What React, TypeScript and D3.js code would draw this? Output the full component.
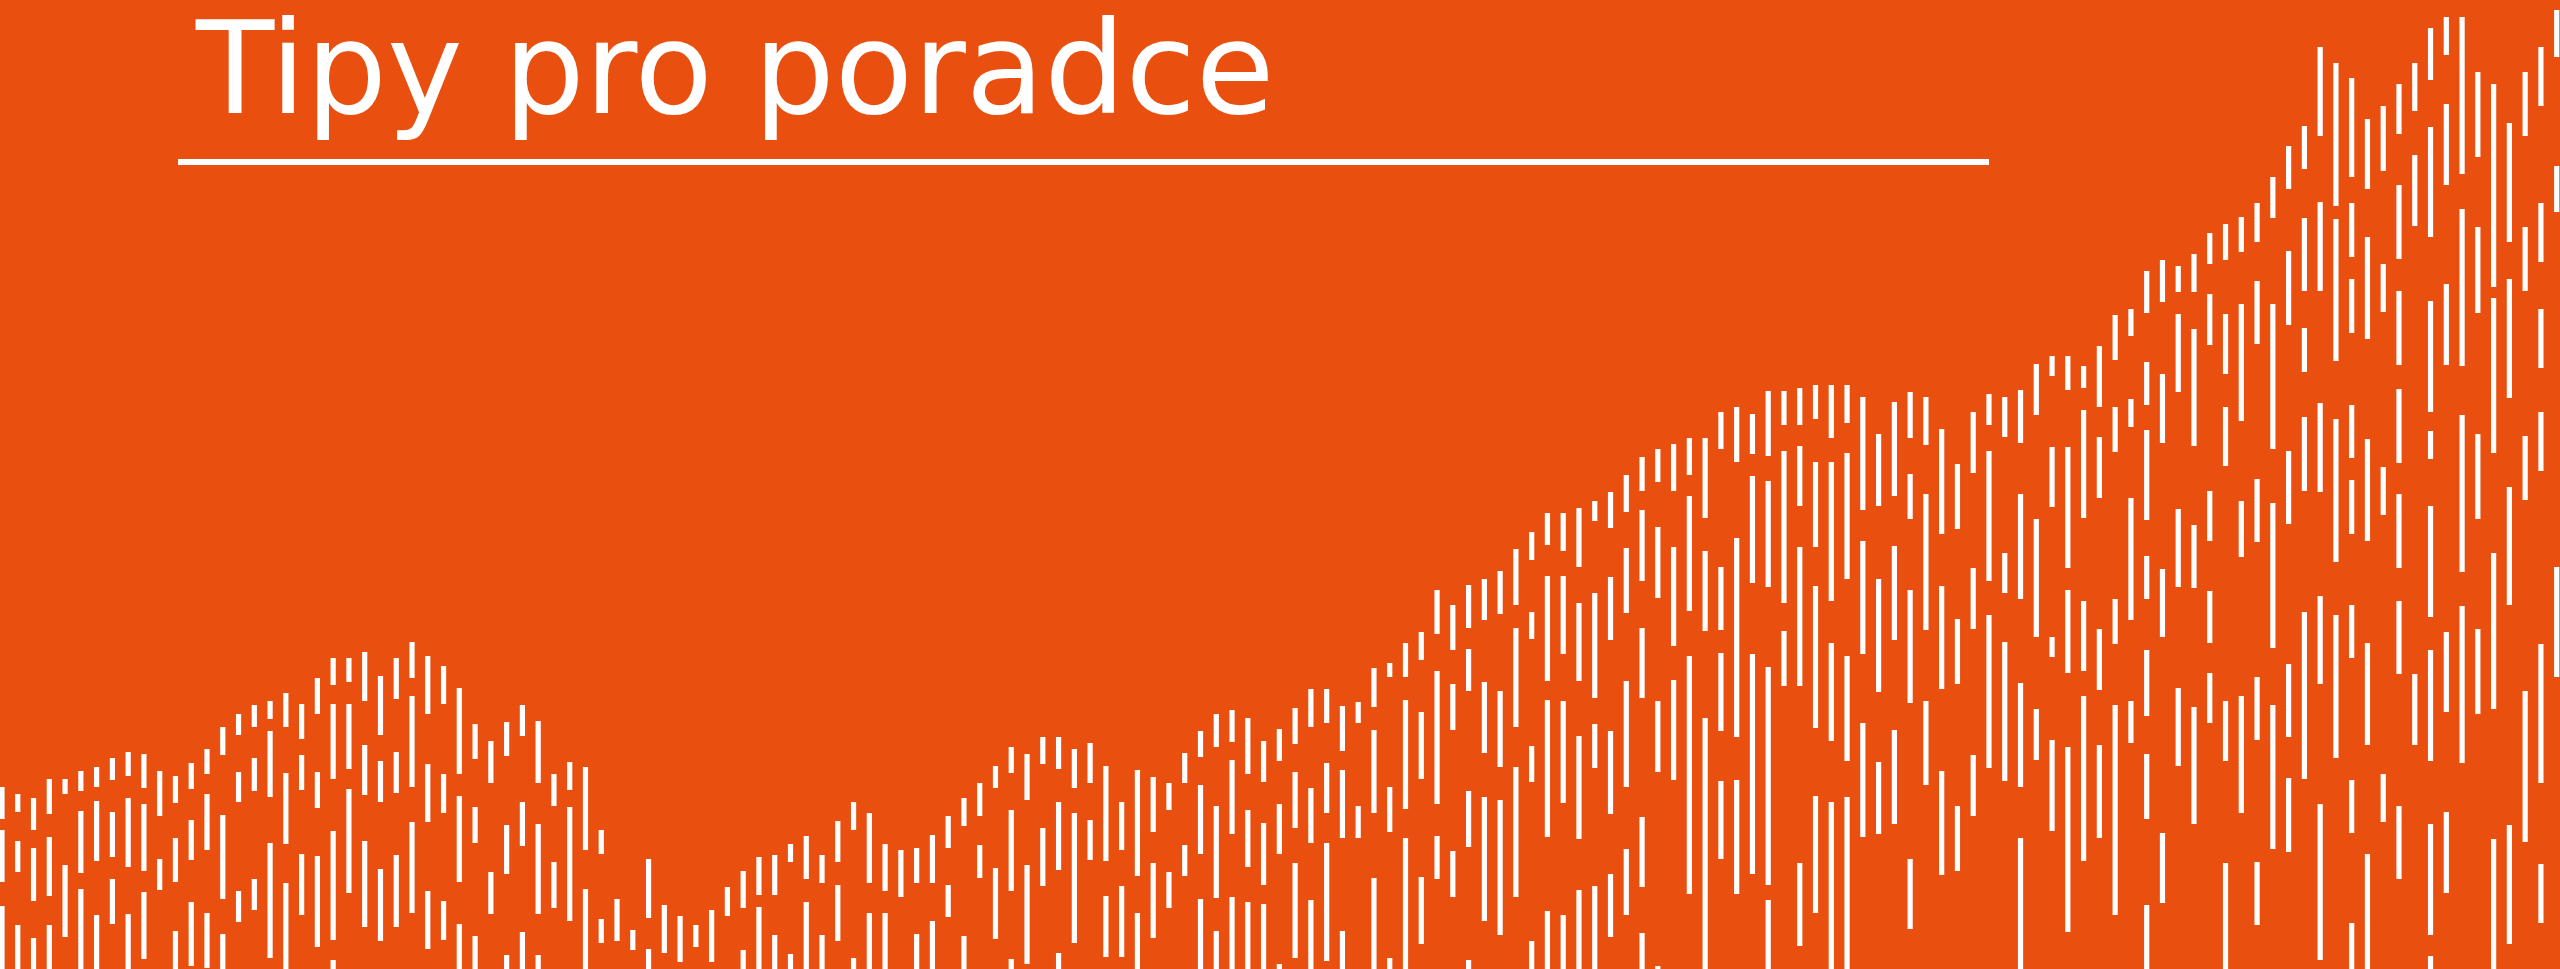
import * as d3 from 'd3'

// Column segments: [top, bottom] rows, per column (left to right)
const ridgeLeft: [number, number][][] = [
  [[787, 819], [830, 882], [906, 969]],
  [[794, 812], [841, 872], [925, 969]],
  [[798, 830], [848, 901], [938, 969]],
  [[779, 814], [837, 896], [925, 969]],
  [[779, 794], [865, 937]],
  [[771, 791], [811, 873], [889, 969]],
  [[767, 787], [801, 861], [915, 969]],
  [[758, 780], [812, 857], [879, 924]],
  [[752, 776], [798, 867], [914, 969]],
  [[754, 788], [804, 871], [892, 959]],
  [[771, 816], [859, 890]],
  [[776, 803], [838, 882], [931, 969]],
  [[763, 789], [820, 860], [902, 966]],
  [[749, 774], [794, 850], [913, 968]],
  [[727, 755], [815, 899], [934, 969]],
  [[714, 735], [772, 802], [891, 922]],
  [[705, 727], [758, 791], [879, 910]],
  [[701, 719], [731, 797], [843, 958]],
  [[693, 727], [773, 844], [883, 969]],
  [[704, 739], [755, 790], [854, 915]],
  [[678, 714], [772, 808], [856, 947]],
  [[658, 685], [704, 779], [831, 940], [960, 969]],
  [[658, 682], [704, 769], [789, 893]],
  [[652, 701], [745, 795], [841, 927]],
  [[676, 735], [761, 802], [869, 941]],
  [[658, 699], [752, 793], [855, 927]],
  [[642, 678], [696, 787], [822, 913]],
  [[656, 714], [764, 822], [891, 949]],
  [[666, 704], [774, 813], [901, 940]],
  [[688, 774], [796, 882], [924, 969]],
  [[724, 759], [807, 843], [936, 969]],
  [[741, 783], [872, 914]],
  [[722, 756], [825, 874], [955, 969]],
  [[705, 736], [802, 846], [932, 969]],
  [[721, 783], [824, 914], [955, 969]],
  [[774, 806], [862, 908]],
  [[762, 790], [807, 921]],
  [[767, 850], [889, 969]],
  [[830, 854], [919, 943]],
  [[899, 941]],
  [[930, 950]],
  [[859, 918], [949, 969]],
  [[905, 953]],
  [[916, 962]],
  [[925, 947]],
]

const riseMiddle: [number, number][][] = [
  [[910, 962]],
  [[887, 916]],
  [[871, 908], [950, 969]],
  [[857, 895], [907, 969]],
  [[855, 895], [935, 969]],
  [[844, 862], [954, 969]],
  [[836, 879], [902, 969]],
  [[855, 883], [935, 969]],
  [[821, 862], [885, 941]],
  [[802, 830], [958, 969]],
  [[813, 883], [913, 969]],
  [[844, 891], [913, 969]],
  [[850, 897]],
  [[848, 883], [934, 969]],
  [[835, 883], [921, 969]],
  [[816, 848], [885, 917]],
  [[798, 826], [936, 969]],
  [[783, 816], [845, 878]],
  [[766, 788], [868, 939]],
  [[747, 773], [810, 891], [959, 969]],
  [[754, 800], [865, 964]],
  [[737, 764], [828, 886]],
  [[737, 769], [802, 870], [953, 969]],
  [[749, 788], [813, 943]],
  [[743, 783], [820, 860]],
  [[766, 861], [896, 957]],
  [[802, 850], [886, 957]],
  [[770, 876], [913, 969]],
  [[777, 832], [863, 938]],
  [[783, 810], [872, 908]],
  [[753, 783], [845, 876]],
  [[731, 757], [785, 854], [899, 969]],
  [[714, 747], [806, 898], [931, 969]],
  [[710, 742], [760, 834], [897, 969]],
  [[718, 774], [810, 867], [902, 969]],
  [[741, 782], [823, 885], [904, 969]],
  [[729, 761], [804, 854], [964, 969]],
  [[708, 744], [772, 828], [863, 958]],
  [[689, 727], [788, 843], [900, 969]],
  [[689, 723], [763, 813], [843, 961]],
  [[706, 751], [770, 838], [931, 969]],
  [[702, 723], [806, 838]],
  [[668, 707], [730, 813], [878, 969]],
  [[663, 677], [787, 832], [958, 969]],
]

const plateau: [number, number][][] = [
  [[643, 677], [700, 809], [838, 969]],
  [[632, 660], [712, 779], [877, 944]],
  [[590, 634], [671, 804], [836, 879]],
  [[605, 650], [684, 730], [851, 897]],
  [[585, 628], [649, 691], [791, 847], [960, 969]],
  [[579, 620], [682, 753], [797, 921]],
  [[571, 614], [691, 767], [800, 935]],
  [[549, 605], [628, 727], [767, 897]],
  [[532, 560], [612, 639], [746, 782], [941, 969]],
  [[513, 545], [576, 681], [700, 837], [911, 969]],
  [[513, 551], [576, 654], [701, 803], [915, 969]],
  [[508, 567], [603, 681], [736, 839], [890, 969]],
  [[501, 521], [593, 698], [724, 768], [886, 969]],
  [[492, 528], [577, 640], [731, 814], [874, 937]],
  [[475, 512], [548, 613], [681, 787], [849, 915]],
  [[457, 491], [510, 581], [628, 698], [817, 887], [933, 969]],
  [[449, 482], [527, 598], [701, 772], [966, 969]],
  [[444, 491], [547, 646], [680, 780]],
  [[438, 475], [496, 611], [656, 894]],
  [[438, 518], [551, 631], [718, 969]],
  [[412, 449], [567, 630], [653, 731], [781, 859]],
  [[407, 462], [538, 737], [780, 894]],
  [[414, 454], [476, 583], [654, 874]],
  [[391, 456], [481, 587], [667, 885], [900, 969]],
  [[391, 425], [451, 603], [631, 686]],
  [[388, 425], [446, 506], [547, 686], [863, 946]],
  [[385, 419], [462, 547], [586, 728], [796, 913]],
  [[385, 438], [462, 601], [643, 741], [802, 969]],
  [[385, 423], [453, 579], [656, 761], [797, 969]],
  [[397, 510], [541, 654], [723, 837]],
  [[434, 506], [579, 692], [762, 834]],
  [[402, 496], [546, 640], [730, 824]],
  [[392, 438], [474, 519], [590, 703], [859, 929]],
  [[397, 445], [494, 630], [701, 785]],
  [[429, 534], [586, 689], [771, 875]],
  [[464, 529], [619, 684], [806, 871]],
  [[412, 473], [568, 629], [755, 816]],
  [[394, 425], [451, 581], [615, 768]],
]

const peaksRight: [number, number][][] = [
  [[397, 437], [553, 593], [642, 781]],
  [[390, 443], [494, 599], [683, 787], [838, 969]],
  [[364, 415], [519, 637], [709, 760]],
  [[356, 376], [447, 507], [637, 657], [740, 831]],
  [[356, 390], [447, 568], [590, 673], [747, 932]],
  [[366, 388], [410, 518], [601, 671], [696, 861]],
  [[346, 407], [437, 498], [629, 690], [745, 838]],
  [[315, 360], [407, 452], [599, 644], [705, 915]],
  [[309, 336], [399, 427], [498, 620], [701, 743]],
  [[271, 313], [362, 405], [430, 520], [556, 599], [650, 716], [754, 819], [905, 969]],
  [[260, 302], [374, 443], [569, 637], [833, 903]],
  [[266, 292], [314, 392], [509, 587], [688, 766]],
  [[254, 292], [329, 446], [525, 588], [707, 824]],
  [[233, 264], [294, 345], [491, 541], [591, 643], [673, 723]],
  [[224, 260], [314, 374], [407, 466], [701, 761], [863, 969]],
  [[217, 252], [304, 421], [501, 557], [696, 813]],
  [[203, 242], [281, 344], [479, 542], [677, 740], [862, 925]],
  [[177, 218], [304, 449], [503, 648], [705, 849]],
  [[146, 189], [251, 325], [451, 524], [664, 737], [778, 852]],
  [[126, 169], [218, 291], [328, 372], [417, 491], [612, 779]],
  [[47, 136], [202, 291], [403, 492], [596, 684], [804, 960]],
  [[63, 206], [219, 361], [419, 562], [615, 758]],
  [[78, 177], [203, 257], [279, 333], [405, 458], [480, 534], [605, 658], [780, 833], [923, 969]],
  [[119, 189], [237, 339], [439, 541], [643, 745], [854, 969]],
  [[106, 171], [264, 312], [467, 515], [774, 822]],
  [[84, 134], [185, 259], [291, 365], [389, 463], [494, 568], [601, 674], [806, 879]],
  [[63, 111], [155, 226], [674, 745]],
  [[28, 80], [127, 237], [301, 412], [431, 459], [506, 617], [650, 761], [824, 935], [956, 969]],
  [[17, 55], [104, 185], [284, 365], [632, 712], [812, 893]],
  [[17, 174], [209, 366], [415, 572], [606, 763]],
  [[72, 157], [227, 313], [434, 519], [629, 714]],
  [[84, 287], [298, 453], [553, 709], [839, 969]],
  [[123, 242], [279, 398], [487, 605], [825, 944]],
  [[72, 136], [227, 291], [436, 500], [691, 842]],
  [[47, 106], [203, 262], [309, 368], [412, 471], [644, 783], [864, 923]],
  [[10, 57], [166, 212], [567, 677]],
]

const title = 'Tipy pro poradce'

const W = 2560
const H = 969
const BG = '#e94f0e'

export default function App() {
  const columns = [...ridgeLeft, ...riseMiddle, ...plateau, ...peaksRight]

  const x = d3.scaleLinear()
    .domain([0, columns.length - 1])
    .range([2, 2556.7])

  const y = d3.scaleLinear()
    .domain([0, H])
    .range([0, H])

  const barW = 5.2

  return (
    <svg
      width={W}
      height={H}
      style={{ position: 'absolute', left: 0, top: 0, display: 'block' }}
    >
      <rect width={W} height={H} fill={BG} />
      <g fill="#fff">
        {columns.map((segs, i) =>
          segs.map(([a, b], j) => (
            <rect
              key={`${i}-${j}`}
              x={x(i) - barW / 2}
              y={y(a)}
              width={barW}
              height={y(b) - y(a)}
            />
          ))
        )}
      </g>
      <text
        x={196}
        y={113}
        fill="#fff"
        fontFamily="DejaVu Sans, Verdana, sans-serif"
        fontSize={128}
      >
        {title}
      </text>
      <rect x={178} y={159} width={1811} height={6} fill="#fff" />
    </svg>
  )
}
